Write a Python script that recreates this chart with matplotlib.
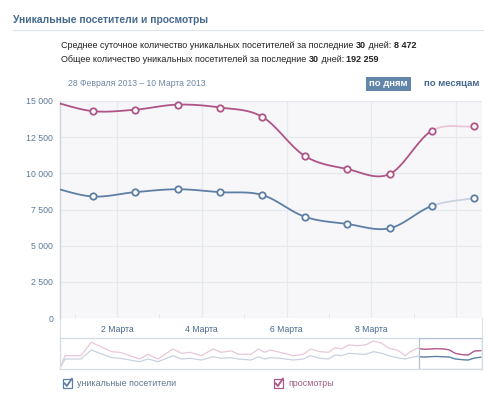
import matplotlib
matplotlib.use("Agg")
import matplotlib.pyplot as plt
import numpy as np
from matplotlib.patches import Rectangle
from matplotlib.lines import Line2D
from matplotlib.ticker import FuncFormatter

# ---- data ----
# day position: tick "N Марта" sits at N
point_days = [0.43, 1.43, 2.43, 3.43, 4.43, 5.43, 6.43, 7.43, 8.43, 9.43, 10.43]
views = [15000, 14300, 14400, 14750, 14550, 13900, 11200, 10300, 9950, 12950, 13250]
visitors = [9050, 8400, 8700, 8900, 8700, 8500, 7000, 6500, 6200, 7750, 8300]

# navigator history before the shown window
nav_days = [-55.6, -54.8, -52.3, -50.7, -47.5, -46.2, -43.1, -41.8, -40.2, -37.9,
            -36.5, -35.2, -33.4, -31.6, -30.3, -28.7, -27.6, -25.6, -24.5, -23.5,
            -22.6, -21.1, -19.0, -17.4, -16.3, -14.8, -13.5, -12.4, -11.4, -10.3,
            -9.0, -7.7, -6.4, -5.1, -4.0, -2.7, -1.4, -0.65]
nav_views = [500, 9450, 9450, 19500, 12450, 12000, 7000, 10500, 7000, 14500,
             11250, 12000, 9450, 14500, 12000, 13000, 10500, 10500, 14500, 12000,
             13700, 12000, 9450, 10500, 14500, 12450, 12000, 15450, 14500, 17500,
             16950, 17500, 20500, 18750, 15000, 13700, 9450, 12450]
nav_visitors = [450, 6975, 6975, 13725, 7975, 7500, 4975, 6975, 4975, 9450,
                6975, 7500, 6225, 8700, 7500, 7975, 6975, 6225, 8700, 6975,
                7975, 7500, 6225, 6975, 9450, 7500, 6975, 9975, 9450, 11250,
                10725, 10500, 12450, 11250, 9450, 7975, 6975, 7975]

yticks = [0, 2500, 5000, 7500, 10000, 12500, 15000]
xtick_days = [2, 4, 6, 8, 10]
xtick_labels = ["2 Марта", "4 Марта", "6 Марта", "8 Марта", ""]
x_range = (0.656, 10.61)

title = "Уникальные посетители и просмотры"
stats = [
    [("Среднее суточное количество уникальных посетителей за последние ", False),
     ("30", True), (" дней: ", False), ("8 472", True)],
    [("Общее количество уникальных посетителей за последние ", False),
     ("30", True), (" дней: ", False), ("192 259", True)],
]
period = "28 Февраля 2013 – 10 Марта 2013"

TITLE_C = "#45688e"
PINK = "#ae5486"
BLUE = "#5d7fa6"
PINK_LIGHT = "#e9c7d9"
BLUE_LIGHT = "#c9d2de"
BG = "#f7f7f9"
GRID = "#e7e9ee"
AXIS_TXT = "#5b7797"

plt.rcParams["font.family"] = ["Liberation Sans", "DejaVu Sans"]

W, H = 500, 394
fig = plt.figure(figsize=(W / 100, H / 100), dpi=100)
fig.patch.set_facecolor("white")
rend = fig.canvas.get_renderer()


def fx(px):
    return px / W


def fy(py):
    return 1 - py / H


def box(l, t, r, b):
    return [fx(l), fy(b), (r - l) / W, (b - t) / H]


def text_w(s, **kw):
    t = fig.text(0, 0, s + "|", **kw)
    w1 = t.get_window_extent(renderer=rend).width
    t.set_text("|")
    w2 = t.get_window_extent(renderer=rend).width
    t.remove()
    return w1 - w2


def rich(x, y, parts, size, color):
    for s, bold in parts:
        kw = dict(fontsize=size, fontweight="bold" if bold else "normal", color=color)
        fig.text(fx(x), fy(y), s, va="center", ha="left", **kw)
        x += text_w(s, **kw)


def smooth(x, y, n=30):
    x = np.asarray(x, float)
    y = np.asarray(y, float)
    m = np.gradient(y, x)
    segs = []
    t = np.linspace(0, 1, n)
    h00 = 2 * t**3 - 3 * t**2 + 1
    h10 = t**3 - 2 * t**2 + t
    h01 = -2 * t**3 + 3 * t**2
    h11 = t**3 - t**2
    for i in range(len(x) - 1):
        h = x[i + 1] - x[i]
        xs = x[i] + t * h
        ys = h00 * y[i] + h10 * h * m[i] + h01 * y[i + 1] + h11 * h * m[i + 1]
        segs.append((xs, ys))
    return segs


# ---- header ----
fig.text(fx(13), fy(20), title, fontsize=7.4, fontweight="bold", color=TITLE_C,
         va="center", ha="left")
fig.add_artist(Line2D([fx(13), fx(483)], [fy(29.5), fy(29.5)], color="#dde3ea", lw=0.8))
rich(61, 45, stats[0], 6.5, "#222222")
rich(61, 60, stats[1], 6.5, "#222222")
fig.text(fx(68), fy(83), period, fontsize=6.2, color="#6d87a3", va="center", ha="left")

fig.add_artist(Rectangle((fx(365.5), fy(91)), 45.5 / W, 14 / H, transform=fig.transFigure,
                         facecolor="#6185ab", edgecolor="none"))
fig.text(fx(388), fy(84), "по дням", fontsize=6.8, fontweight="bold", color="white",
         va="center", ha="center")
fig.text(fx(424), fy(84), "по месяцам", fontsize=6.8, fontweight="bold", color=TITLE_C,
         va="center", ha="left")

# ---- main chart ----
ax = fig.add_axes(box(60, 101, 482, 318))
ax.set_facecolor(BG)
ax.set_xlim(*x_range)
ax.set_ylim(0, 15000)
for side in ("top", "right", "bottom"):
    ax.spines[side].set_visible(False)
ax.spines["left"].set_color("#cdd4dc")
ax.spines["left"].set_linewidth(1.0)
ax.set_yticks(yticks)
ax.yaxis.set_major_formatter(FuncFormatter(lambda v, p: f"{int(v):,}".replace(",", " ")))
ax.set_xticks(xtick_days)
ax.set_xticklabels(xtick_labels)
ax.set_xticks([1, 3, 5, 7, 9], minor=True)
ax.tick_params(axis="y", length=0, pad=5, labelsize=6.3, labelcolor=AXIS_TXT)
ax.tick_params(axis="x", which="major", length=0, pad=5, labelsize=6.2, labelcolor=TITLE_C)
ax.tick_params(axis="x", which="minor", length=3, direction="in", color="#dfe3e9")
ax.grid(True, axis="both", color=GRID, lw=0.9)
ax.set_axisbelow(True)

for vals, dark, light in ((views, PINK, PINK_LIGHT), (visitors, BLUE, BLUE_LIGHT)):
    segs = smooth(point_days, vals)
    for i, (xs, ys) in enumerate(segs):
        ax.plot(xs, ys, color=light if i == len(segs) - 1 else dark, lw=1.3,
                solid_capstyle="round", zorder=3, clip_on=True)
    ax.plot(point_days[1:], vals[1:], "o", ms=4.6, mfc="white", mec=dark, mew=1.3,
            zorder=4, clip_on=False)

# label band under the chart
band = fig.add_axes(box(60, 318, 482, 338), zorder=-1)
band.set_xticks([])
band.set_yticks([])
band.set_facecolor("white")
for side in ("top", "bottom"):
    band.spines[side].set_visible(False)
for side in ("left", "right"):
    band.spines[side].set_color("#dbe1e8")

# ---- navigator ----
nav = fig.add_axes(box(60, 338, 482, 369))
nav.set_xticks([])
nav.set_yticks([])
for s in nav.spines.values():
    s.set_color("#d3dbe4")
    s.set_linewidth(0.9)
all_days = nav_days + point_days
all_views = nav_views + views
all_visitors = nav_visitors + visitors
nav.set_xlim(nav_days[0], x_range[1])
nav.set_ylim(-500, 22700)
win = Rectangle((x_range[0], -500), x_range[1] - x_range[0], 23200, facecolor="none",
                edgecolor="#b3c0ce", lw=0.9, zorder=5)
nav.add_patch(win)
for vals, dark, light in ((all_views, PINK, PINK_LIGHT), (all_visitors, BLUE, BLUE_LIGHT)):
    nav.plot(all_days, vals, color=light, lw=0.9)
    ln, = nav.plot(all_days, vals, color=dark, lw=0.9)
    ln.set_clip_path(win)

# ---- legend checkboxes ----
def checkbox(x, y, color, label, tcolor):
    fig.add_artist(Rectangle((fx(x), fy(y + 9)), 9 / W, 9 / H, transform=fig.transFigure,
                             facecolor="white", edgecolor=color, lw=0.9))
    fig.add_artist(Line2D([fx(x + 2), fx(x + 4.3), fx(x + 9.5)],
                          [fy(y + 4.2), fy(y + 7), fy(y - 0.5)], color=color, lw=1.3,
                          solid_capstyle="round", solid_joinstyle="round"))
    fig.text(fx(x + 14.5), fy(y + 4.5), label, fontsize=6.4, color=tcolor,
             va="center", ha="left")


checkbox(62.5, 379, BLUE, "уникальные посетители", "#62768f")
checkbox(273.5, 379, PINK, "просмотры", "#a05c84")

fig.savefig("out.png", dpi=100, facecolor="white")
